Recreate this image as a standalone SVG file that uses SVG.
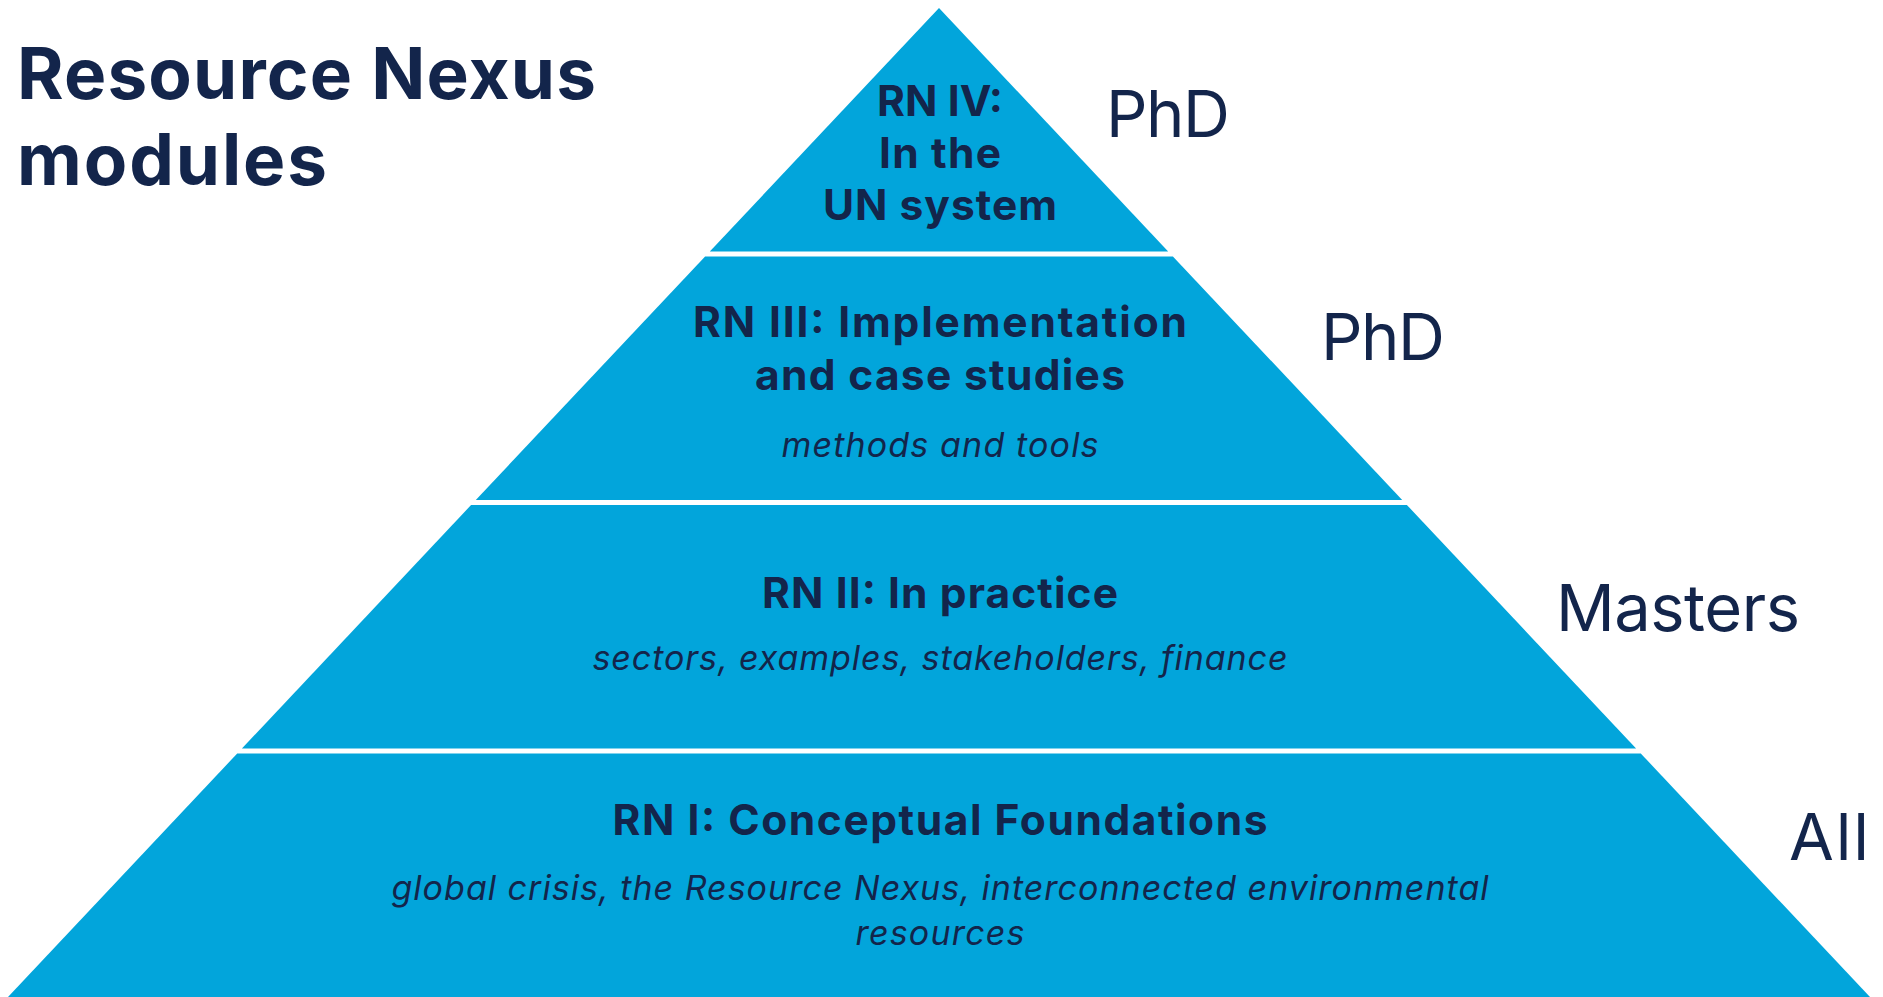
<svg xmlns="http://www.w3.org/2000/svg" width="1883" height="997" viewBox="0 0 1883 997">
<style>
.band{fill:#02A5DB;}
.t{font-family:Inter,"Noto Sans","Liberation Sans",sans-serif;fill:#13254B;}
.title{font-size:71px;font-weight:700;}
.h{font-size:42.5px;font-weight:700;text-anchor:middle;}
.s{font-size:34px;font-style:italic;text-anchor:middle;}
.lvl{font-size:65px;font-weight:400;}
</style>
<rect width="1883" height="997" fill="#FFFFFF"/>
<g id="title">
<text class="t title" x="17" y="99" textLength="579">Resource Nexus</text>
<text class="t title" x="17" y="185" textLength="310">modules</text>
</g>
<g id="rn4">
<polygon class="band" points="939,8 1168.2,251.5 709.8,251.5"/>
<text class="t h" x="940" y="116" textLength="126">RN IV:</text>
<text class="t h" x="940" y="168" textLength="122">In the</text>
<text class="t h" x="940" y="220" textLength="234">UN system</text>
</g>
<g id="rn3">
<polygon class="band" points="705.1,256.5 1172.9,256.5 1402.2,500 475.8,500"/>
<text class="t h" x="940" y="337" textLength="494">RN III: Implementation</text>
<text class="t h" x="940" y="390" textLength="370">and case studies</text>
<text class="t s" x="940" y="457" textLength="317">methods and tools</text>
</g>
<g id="rn2">
<polygon class="band" points="471.1,505 1406.9,505 1636.1,748.5 241.9,748.5"/>
<text class="t h" x="940" y="608" textLength="356">RN II: In practice</text>
<text class="t s" x="940" y="670" textLength="695">sectors, examples, stakeholders, finance</text>
</g>
<g id="rn1">
<polygon class="band" points="237.2,753.5 1640.8,753.5 1870,997 8,997"/>
<text class="t h" x="940" y="835" textLength="655">RN I: Conceptual Foundations</text>
<text class="t s" x="940" y="900" textLength="1097">global crisis, the Resource Nexus, interconnected environmental</text>
<text class="t s" x="940" y="945" textLength="169">resources</text>
</g>
<g id="levels">
<text class="t lvl" x="1106" y="137" textLength="124">PhD</text>
<text class="t lvl" x="1321" y="360" textLength="124">PhD</text>
<text class="t lvl" x="1556" y="631" textLength="244">Masters</text>
<text class="t lvl" x="1789" y="860" textLength="80">All</text>
</g>
<g id="connectors"></g>
</svg>
